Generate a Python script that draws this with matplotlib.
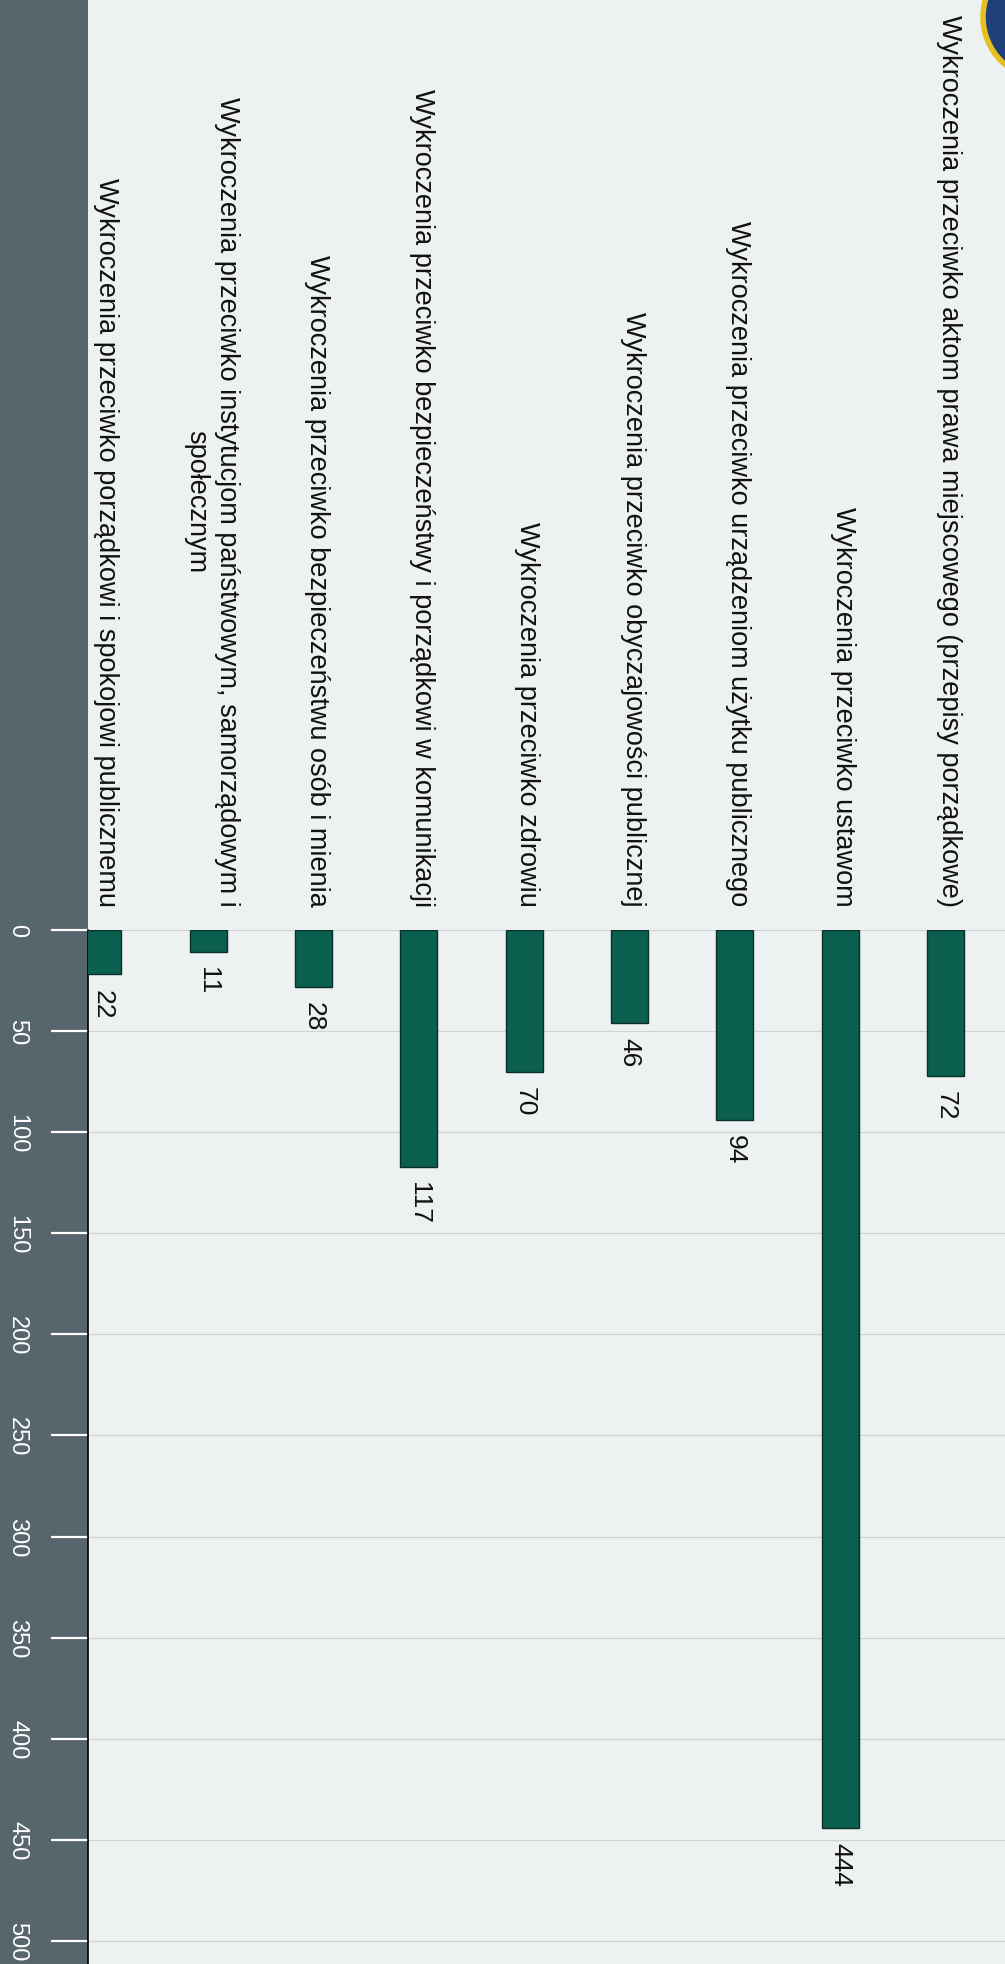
import matplotlib
matplotlib.use("Agg")
import matplotlib.pyplot as plt
from matplotlib.patches import Rectangle, Circle

plt.rcParams['font.family'] = ['Liberation Sans', 'DejaVu Sans']

# data, left to right as printed on the page
categories = [
    "Wykroczenia przeciwko porządkowi i spokojowi publicznemu",
    "Wykroczenia przeciwko instytucjom państwowym, samorządowym i\nspołecznym",
    "Wykroczenia przeciwko bezpieczeństwu osób i mienia",
    "Wykroczenia przeciwko bezpieczeństwy i porządkowi w komunikacji",
    "Wykroczenia przeciwko zdrowiu",
    "Wykroczenia przeciwko obyczajowości publicznej",
    "Wykroczenia przeciwko urządzeniom użytku publicznego",
    "Wykroczenia przeciwko ustawom",
    "Wykroczenia przeciwko aktom prawa miejscowego (przepisy porządkowe)",
]
values = [22, 11, 28, 117, 70, 46, 94, 444, 72]
ticks = [0, 50, 100, 150, 200, 250, 300, 350, 400, 450, 500]

W, H = 1005, 1965
fig = plt.figure(figsize=(W / 100, H / 100), dpi=100)
fig.patch.set_facecolor('#eef1f2')

# dark scanned strip on the left
fig.patches.append(Rectangle((0, 0), 88 / W, 1, transform=fig.transFigure,
                             facecolor='#56666c', edgecolor='none', zorder=-2))
# fragment of logo in the top right corner
fig.patches.append(Circle((1045, H - 18), 62, transform=None,
                          facecolor='#1f3f78', edgecolor='#e6c020', lw=4, zorder=-2))

ax = fig.add_axes([88 / W, 0, 1 - 88 / W, 1 - 931 / H])
ax.set_facecolor('none')

x = list(range(len(values)))
ax.bar(x, values, width=0.35, color='#0b5f4f', edgecolor='#0a2e28', linewidth=1, zorder=3)

ax.set_xlim(-0.1425, 8.566)
ax.set_ylim(511.4, 0)

ax.set_yticks(ticks)
ax.set_yticklabels([str(t) for t in ticks])
ax.tick_params(axis='y', length=27, width=1.6, color='white', labelcolor='white',
               labelsize=17, pad=24)
for lab in ax.get_yticklabels():
    lab.set_rotation(-90)
    lab.set_ha('center')
    lab.set_va('center')
ax.set_xticks([])

ax.grid(axis='y', color='#cfd3d4', lw=0.9, zorder=1)
for s in ['top', 'right', 'bottom']:
    ax.spines[s].set_visible(False)
ax.spines['left'].set_color('black')
ax.spines['left'].set_linewidth(1.2)

for xi, v, name in zip(x, values, categories):
    ax.text(xi, v + 7, str(v), rotation=-90, ha='center', va='top',
            fontsize=19, color='#111111')
    ax.text(xi + 0.03, -12, name, rotation=-90, ha='center', va='bottom',
            fontsize=19.5, color='#111111', clip_on=False, linespacing=1.25)

fig.savefig('out.png', dpi=100, facecolor=fig.get_facecolor())
